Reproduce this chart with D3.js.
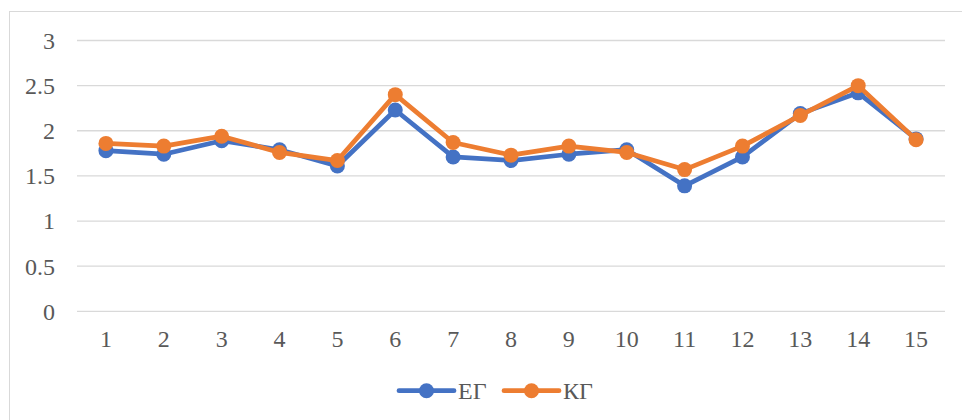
<!DOCTYPE html>
<html>
<head>
<meta charset="utf-8">
<script src="https://cdn.jsdelivr.net/npm/d3@7"></script>
<style>
  html, body { margin: 0; padding: 0; background: #fff; }
  svg { display: block; }
</style>
</head>
<body>
<div id="chart"></div>
<script>
const categories = ['1', '2', '3', '4', '5', '6', '7', '8', '9', '10', '11', '12', '13', '14', '15'];
const egValues = [1.78, 1.74, 1.89, 1.79, 1.61, 2.23, 1.71, 1.67, 1.74, 1.79, 1.39, 1.71, 2.19, 2.42, 1.91];
const kgValues = [1.86, 1.83, 1.94, 1.76, 1.67, 2.40, 1.87, 1.73, 1.83, 1.76, 1.57, 1.83, 2.17, 2.50, 1.90];
const yTicks = [0, 0.5, 1, 1.5, 2, 2.5, 3];
const seriesNames = ['ЕГ', 'КГ'];

const W = 962, H = 420;
const M = { top: 40.5, right: 17, bottom: 108.7, left: 77 };
const w = W - M.left - M.right, h = H - M.top - M.bottom;
const COLORS = ['#4472C4', '#ED7D31'];
const TEXT = '#595959';
const FONT = 'Liberation Serif';
const FS = 24;

const root = d3.select('#chart').append('svg').attr('width', W).attr('height', H);

// chart frame (only top/left visible in the crop)
root.append('rect').attr('x', 9.5).attr('y', 11.5).attr('width', 1000).attr('height', 500)
  .attr('fill', 'none').attr('stroke', '#D9D9D9').attr('stroke-width', 1);

const svg = root.append('g').attr('transform', `translate(${M.left},${M.top})`);

const x = d3.scaleBand().domain(categories).range([0, w]);
const y = d3.scaleLinear().domain([0, 3]).range([h, 0]);

svg.append('g').selectAll('line').data(yTicks).enter().append('line')
  .attr('x1', 0).attr('x2', w).attr('y1', d => y(d)).attr('y2', d => y(d))
  .attr('stroke', '#D9D9D9').attr('stroke-width', 1.3);

svg.append('g').selectAll('text').data(yTicks).enter().append('text')
  .attr('x', -22).attr('y', d => y(d) + 8.4).attr('text-anchor', 'end')
  .attr('font-family', FONT).attr('fill', TEXT).attr('font-size', FS).text(d => d);

svg.append('g').selectAll('text').data(categories).enter().append('text')
  .attr('x', d => x(d) + x.bandwidth() / 2).attr('y', h + 35.4)
  .attr('text-anchor', 'middle').attr('font-family', FONT).attr('fill', TEXT)
  .attr('font-size', FS).text(d => d);

const cx = d => x(d) + x.bandwidth() / 2;
const lineGen = d3.line().x(d => cx(d.c)).y(d => y(d.v));

[egValues, kgValues].forEach((vals, i) => {
  const data = categories.map((c, j) => ({ c, v: vals[j] }));
  svg.append('path').datum(data).attr('fill', 'none').attr('stroke', COLORS[i])
    .attr('stroke-width', 4.75).attr('stroke-linejoin', 'round').attr('stroke-linecap', 'round')
    .attr('d', lineGen);
  svg.selectAll(null).data(data).enter().append('circle')
    .attr('cx', d => cx(d.c)).attr('cy', d => y(d.v)).attr('r', 7.5)
    .attr('fill', COLORS[i]);
});

// legend
const leg = root.append('g').attr('transform', 'translate(399,390.7)');
seriesNames.forEach((name, i) => {
  const g = leg.append('g').attr('transform', `translate(${i * 105},0)`);
  g.append('line').attr('x1', 0).attr('x2', 55).attr('y1', 0).attr('y2', 0)
    .attr('stroke', COLORS[i]).attr('stroke-width', 4.75).attr('stroke-linecap', 'round');
  g.append('circle').attr('cx', 27.5).attr('cy', 0).attr('r', 7.5).attr('fill', COLORS[i]);
  g.append('text').attr('x', 59).attr('y', 8.6)
    .attr('font-family', FONT).attr('fill', TEXT).attr('font-size', FS).text(name);
});
</script>
</body>
</html>
